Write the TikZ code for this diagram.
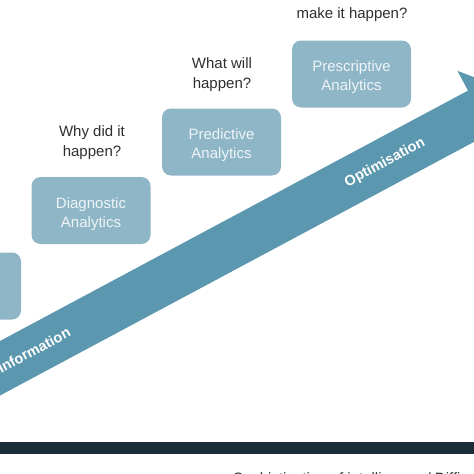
\documentclass[tikz,border=0pt]{standalone}
\usepackage{fontspec}
\setmainfont{Liberation Sans}
\definecolor{boxfill}{HTML}{8FB6C7}
\definecolor{bandcol}{HTML}{5B97AE}
\definecolor{barcol}{HTML}{1B2E3A}
\definecolor{qcol}{HTML}{2E2E2E}
\definecolor{boxtext}{HTML}{EEF4F7}
\tikzset{
  stage/.style={fill=boxfill, rounded corners=9pt, minimum width=119pt, minimum height=67pt,
    inner sep=0pt},
  stagetext/.style={align=center, text=boxtext, inner sep=0pt, yshift=-3.5pt, font=\fontsize{15}{19}\selectfont},
  question/.style={align=center, text=qcol, inner sep=0pt, font=\fontsize{15}{20}\selectfont},
  bandlabel/.style={text=white, inner sep=0pt, rotate=28.15, font=\bfseries\fontsize{14.5}{17}\selectfont},
}
\begin{document}
\begin{tikzpicture}[x=1pt,y=-1pt]
\useasboundingbox (0,0) rectangle (474,474);
\clip (0,0) rectangle (474,474);
% rising arrow band
\fill[bandcol] (-60,373.1) -- (468,90.6) -- (457.4,70.8) -- (514.6,92.9) -- (501.2,152.8) -- (490.6,133.0) -- (-60,427.6) -- cycle;
\node[bandlabel] (info) at (34,350) {Information};
\node[bandlabel] (opt) at (385,163) {Optimisation};
% stage boxes
\node[stage] (desc) at (-38.5,286) {};
\node[stage, label={[stagetext]center:Diagnostic\\Analytics}] (diag) at (91,210.5) {};
\node[stage, label={[stagetext]center:Predictive\\Analytics}] (pred) at (221.5,142) {};
\node[stage, label={[stagetext]center:Prescriptive\\Analytics}] (presc) at (351.5,74) {};
% questions
\node[question] (qdiag) at (92,142.5) {Why did it\\happen?};
\node[question] (qpred) at (222,74.5) {What will\\happen?};
\node[question] (qpresc) at (352,5) {How can we\\make it happen?};
% base bar and axis label
\fill[barcol] (0,442) rectangle (474,454);
\node[anchor=base west, inner sep=0pt, text=qcol, font=\fontsize{15}{18}\selectfont] (axis) at (233,483) {Sophistication of intelligence / Difficulty};
\end{tikzpicture}
\end{document}
